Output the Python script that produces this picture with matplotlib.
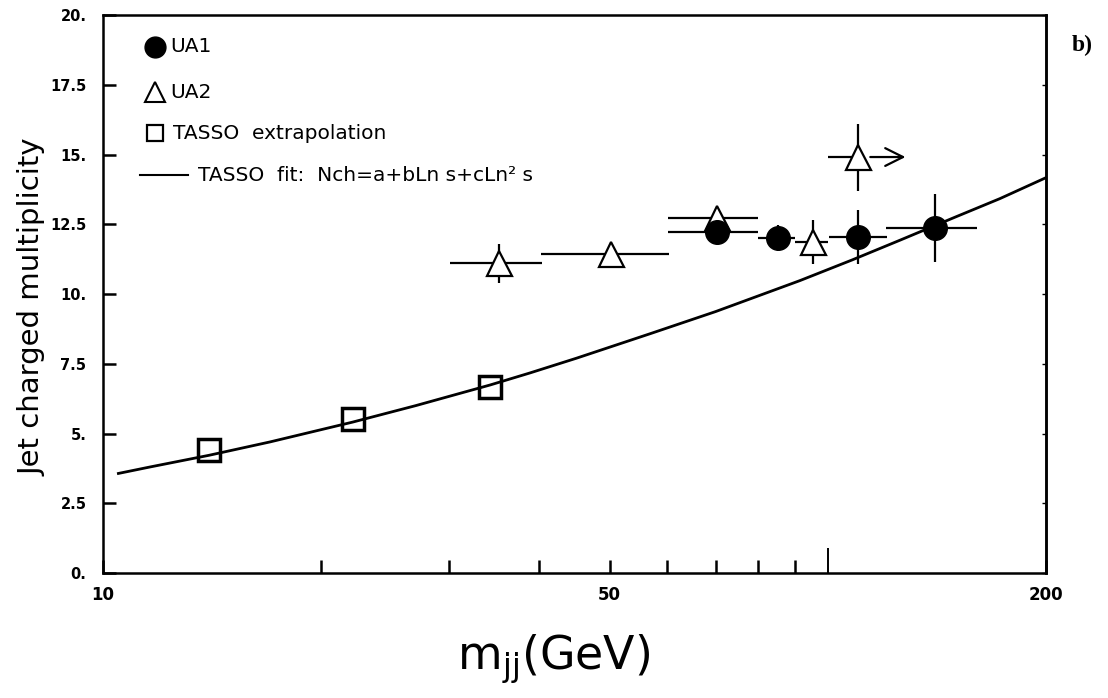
import matplotlib
matplotlib.use('Agg')
import matplotlib.pyplot as plt

# TASSO extrapolation points
tasso_m = [14.0, 22.1, 34.2]
tasso_n = [4.41, 5.52, 6.67]

# UA1 points with horizontal bin edges and vertical errors
ua1_m = [70.3, 85.4, 110.0, 140.6]
ua1_n = [12.22, 12.01, 12.04, 12.37]
ua1_mlo = [60.2, 80.1, 100.4, 120.5]
ua1_mhi = [80.1, 90.1, 120.7, 160.6]
ua1_nerr = [0.3, 0.48, 0.97, 1.22]

# UA2 points
ua2_m = [35.2, 50.2, 70.3, 95.4]
ua2_n = [11.11, 11.43, 12.72, 11.86]
ua2_mlo = [30.1, 40.2, 60.2, 90.0]
ua2_mhi = [40.3, 60.4, 80.1, 100.0]
ua2_nerr = [0.7, 0.0, 0.0, 0.8]

# UA2 lower-limit point (arrow to the right)
ua2_lim_m = [110.0]
ua2_lim_n = [14.91]
ua2_lim_mlo = [100.0]
ua2_lim_arrow = [128.0]
ua2_lim_nerr = [1.2]

# TASSO fit curve
fit_m = [10.5, 11.6, 14.0, 17.0, 22.1, 27.0, 34.2, 38.8, 45.0, 56.9,
         70.0, 91.5, 108.0, 125.8, 150.0, 172.8, 200.0]
fit_n = [3.57, 3.80, 4.22, 4.70, 5.41, 6.00, 6.74, 7.17, 7.70, 8.58,
         9.37, 10.48, 11.22, 11.93, 12.76, 13.42, 14.17]

y_ticks = [0, 2.5, 5, 7.5, 10, 12.5, 15, 17.5, 20]
y_labels = ['0.', '2.5', '5.', '7.5', '10.', '12.5', '15.', '17.5', '20.']
x_minor = [10, 20, 30, 40, 50, 60, 70, 80, 90, 200]
x_minor_labels = ['10', '', '', '', '50', '', '', '', '', '200']


def xerr_of(m, lo, hi):
    return [[a - b for a, b in zip(m, lo)], [b - a for a, b in zip(m, hi)]]


fig = plt.figure(figsize=(11.08, 6.98), dpi=100)
ax = fig.add_axes([0.093, 0.179, 0.851, 0.7995])

ax.plot(fit_m, fit_n, color='black', lw=2.0, zorder=2)

ax.errorbar(ua2_m, ua2_n, xerr=xerr_of(ua2_m, ua2_mlo, ua2_mhi), yerr=ua2_nerr,
            fmt='^', ms=18, mfc='white', mec='black', mew=1.6,
            ecolor='black', elinewidth=1.6, capsize=0, zorder=3)
ax.errorbar(ua1_m, ua1_n, xerr=xerr_of(ua1_m, ua1_mlo, ua1_mhi), yerr=ua1_nerr,
            fmt='o', ms=17, mfc='black', mec='black',
            ecolor='black', elinewidth=1.6, capsize=0, zorder=4)
ax.errorbar(ua2_lim_m, ua2_lim_n,
            xerr=[[a - b for a, b in zip(ua2_lim_m, ua2_lim_mlo)], [0]],
            yerr=ua2_lim_nerr,
            fmt='^', ms=18, mfc='white', mec='black', mew=1.6,
            ecolor='black', elinewidth=1.6, capsize=0, zorder=3)
for m0, m1, n in zip(ua2_lim_m, ua2_lim_arrow, ua2_lim_n):
    ax.annotate('', xy=(m1, n), xytext=(m0, n),
                arrowprops=dict(arrowstyle='->', lw=1.6, color='black',
                                mutation_scale=32, shrinkA=9, shrinkB=0))
ax.plot(tasso_m, tasso_n, 's', ms=16, mfc='none', mec='black', mew=2.5, zorder=3)

ax.set_xscale('log')
ax.set_xlim(10, 200)
ax.set_ylim(0, 20)

ax.set_yticks(y_ticks, labels=y_labels)
ax.set_xticks([100], labels=[''])
ax.set_xticks(x_minor, labels=x_minor_labels, minor=True)
ax.tick_params(axis='y', direction='in', length=9.5, width=1.8, pad=12,
               labelsize=10.5)
ax.tick_params(axis='x', which='minor', direction='in', length=9.5, width=1.8,
               pad=9, labelsize=12)
ax.tick_params(axis='x', which='major', direction='in', length=18, width=1.4)
for lab in ax.get_yticklabels() + ax.get_xticklabels(minor=True):
    lab.set_fontweight('bold')

sec = ax.secondary_yaxis('right')
sec.set_yticks(y_ticks, labels=[''] * len(y_ticks))
sec.tick_params(direction='in', length=3, width=1)
sec.spines['right'].set_linewidth(1.8)

for s in ax.spines.values():
    s.set_linewidth(1.8)
    s.set_color('black')

ax.set_ylabel('Jet charged multiplicity', fontsize=21, va='center')
ax.yaxis.set_label_coords(-0.0753, 0.477)
fig.text(0.50, 0.055, r'm$_{\rm jj}$(GeV)', fontsize=33, ha='center', va='center')
fig.text(0.977, 0.935, 'b)', fontsize=17, fontweight='bold',
         family='Liberation Serif', ha='center', va='center')

# hand-placed legend
ta = ax.transAxes
ax.plot([0.0551], [0.9427], 'o', ms=15, color='black', transform=ta, clip_on=False)
ax.text(0.0711, 0.9427, 'UA1', fontsize=14.5, va='center', transform=ta)
ax.plot([0.0551], [0.862], '^', ms=15, mfc='white', mec='black', mew=1.5,
        transform=ta, clip_on=False)
ax.text(0.0711, 0.862, 'UA2', fontsize=14.5, va='center', transform=ta)
ax.plot([0.0551], [0.7885], 's', ms=11, mfc='none', mec='black', mew=1.6,
        transform=ta, clip_on=False)
ax.text(0.0742, 0.7885, 'TASSO  extrapolation', fontsize=14.5, va='center', transform=ta)
ax.plot([0.0392, 0.0901], [0.7133, 0.7133], color='black', lw=1.5, transform=ta)
ax.text(0.1007, 0.7133, 'TASSO  fit:  Nch=a+bLn s+cLn² s', fontsize=14.5,
        va='center', transform=ta)

fig.savefig('out.png', dpi=100)
